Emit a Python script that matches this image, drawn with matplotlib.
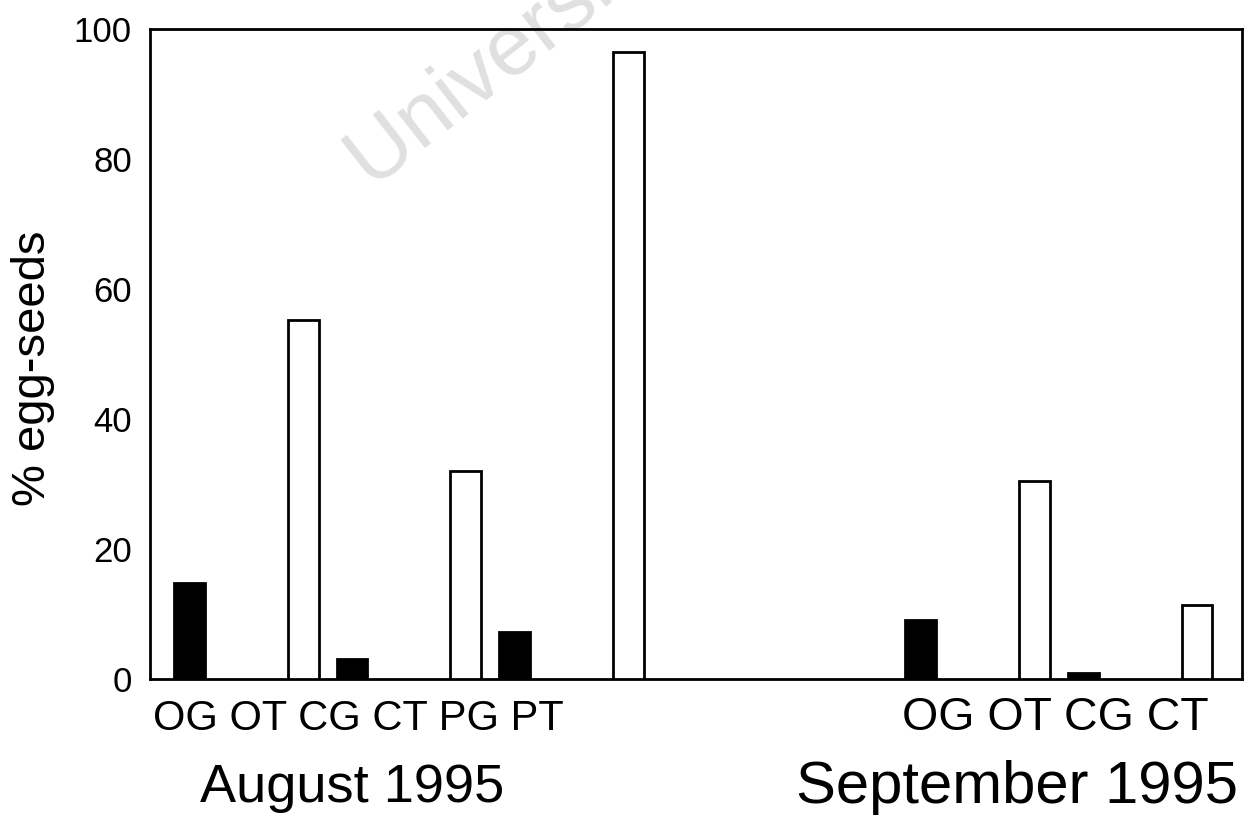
import matplotlib
matplotlib.use("Agg")
import matplotlib.pyplot as plt

plt.rcParams["font.family"] = ["Liberation Sans", "DejaVu Sans"]

# Percentage of egg-seeds per site/treatment
aug_labels = ["OG", "OT", "CG", "CT", "PG", "PT"]
aug_values = [14.8, 55.2, 3.1, 32.0, 7.2, 96.5]
sep_labels = ["OG", "OT", "CG", "CT"]
sep_values = [9.1, 30.5, 1.0, 11.4]
month_labels = ["August 1995", "September 1995"]
yticks = [0, 20, 40, 60, 80, 100]

# Layout: slot positions along the x axis (G bars filled, T bars open)
aug_pos = [0, 7, 10, 17, 20, 27]
sep_pos = [45, 52, 55, 62]
bar_w = 1.9

W, H = 1257, 818
fig = plt.figure(figsize=(W / 100, H / 100), dpi=100)
ax = fig.add_axes([150 / W, 1 - 679 / H, (1242 - 150) / W, (679 - 29) / H])
ax.set_facecolor("none")


def px(x, y):
    """Pixel position (from top-left) to figure fraction."""
    return x / W, 1 - y / H


def draw(positions, labels, values):
    for x, lab, v in zip(positions, labels, values):
        filled = lab.endswith("G")
        ax.bar(x, v, width=bar_w, color="black" if filled else "white",
               edgecolor="black", linewidth=2, zorder=3)


draw(aug_pos, aug_labels, aug_values)
draw(sep_pos, sep_labels, sep_values)

ax.set_xlim(-2.43, 64.77)
ax.set_ylim(0, 100)
ax.set_xticks([])
ax.set_yticks(yticks)
ax.tick_params(axis="y", length=0, pad=13, labelsize=25)
for s in ax.spines.values():
    s.set_linewidth(2)

# Y-axis title
fig.text(*px(33, 368), "% egg-seeds", rotation=90, ha="center", va="center",
         fontsize=34)

# Category and month captions under each group
fig.text(*px(358, 730), " ".join(aug_labels), ha="center", va="baseline",
         fontsize=30)
fig.text(*px(1055, 730), " ".join(sep_labels), ha="center", va="baseline",
         fontsize=33.5)
fig.text(*px(352, 802), month_labels[0], ha="center", va="baseline",
         fontsize=39)
fig.text(*px(1017, 803), month_labels[1], ha="center", va="baseline",
         fontsize=43)

# Faint institutional watermark
fig.text(*px(372, 190), "University of Cape Town", rotation=38,
         ha="left", va="baseline", fontsize=62, color="#e0e0e0", zorder=-1,
         rotation_mode="anchor")

fig.savefig("out.png", dpi=100)
